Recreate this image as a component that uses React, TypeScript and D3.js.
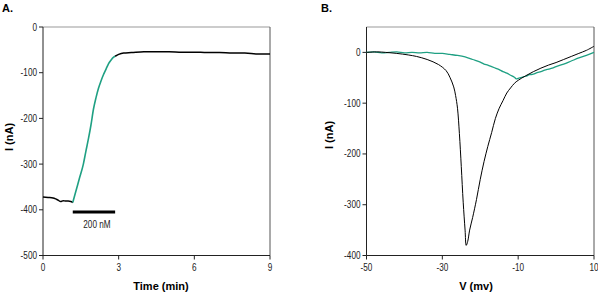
import React from "react";
import * as d3 from "d3";

// Panel A: current vs time
const timeBase = [0, 0.2, 0.4, 0.5, 0.6, 0.7, 0.8, 0.9, 1.0, 1.1, 1.18];
const currentBase = [-372, -373, -374, -376, -379, -382, -380, -381, -381, -382, -384];
const timeResp = [1.18, 1.3, 1.45, 1.6, 1.7, 1.8, 1.9, 2.0, 2.1, 2.2, 2.3, 2.4, 2.5, 2.6, 2.7, 2.8, 2.86];
const currentResp = [-384, -360, -330, -300, -272, -245, -215, -180, -155, -134, -118, -104, -92, -80, -72, -66, -64];
const timeWash = [2.86, 3.0, 3.2, 3.5, 4, 4.5, 5, 5.5, 6, 6.5, 7, 7.5, 8, 8.5, 9];
const currentWash = [-64, -60, -57, -56, -54, -54, -54, -55, -55, -56, -56, -57, -57, -59, -59];
const drugBar = [1.18, 2.86];
const drugBarLevel = -405;
const drugLabel = "200 nM";
const timeTicks = [0, 3, 6, 9];
const currentTicksA = [0, -100, -200, -300, -400, -500];

// Panel B: I-V curves
const voltBlack = [-50, -47, -45, -42, -39, -36.8, -34, -31, -29, -28, -27, -26.5, -26, -25.5, -25, -24.5, -24, -23.7, -23.3, -22.8, -22, -21, -20, -19, -18, -17, -16, -15, -14, -13, -12, -11, -10, -8, -6, -4, -2, 0, 2, 4, 6, 8, 10];
const currBlack = [0, 1, 0, -2, -5, -8, -14, -24, -36, -49, -68, -85, -110, -160, -225, -295, -350, -380, -372, -350, -325, -290, -250, -215, -185, -158, -130, -110, -95, -80, -70, -61, -55, -46, -38, -31, -25, -20, -14, -8, -2, 4, 12];
const voltGreen = [-50, -48, -46, -44, -42, -40, -38, -36, -34, -32, -30, -28, -26, -24, -22, -20, -19, -18, -17, -16, -15, -14, -13, -12, -11, -10.5, -10, -9, -8, -7, -6, -5, -4, -3, -2, -1, 0, 2, 4, 6, 8, 10];
const currGreen = [0, 1, -1, 0, 1, -1, 0, -1, 0, -2, -2, -4, -6, -9, -14, -19, -23, -25, -28, -31, -34, -38, -41, -45, -49, -52, -51, -49, -47, -44, -43, -40, -38, -35, -33, -31, -28, -23, -17, -11, -6, 0];
const voltTicks = [-50, -30, -10, 10];
const currentTicksB = [0, -100, -200, -300, -400];

const GREEN = "#1fa083";
const TICK_FONT = "'Liberation Sans', Arial, sans-serif";
const TITLE_FONT = "'Liberation Sans', Arial, sans-serif";

export default function App() {
  const W = 598, H = 294;

  // Panel A scales
  const xA = d3.scaleLinear().domain([0, 9]).range([43, 270]);
  const yA = d3.scaleLinear().domain([-500, 0]).range([255.5, 27]);
  // Panel B scales
  const xB = d3.scaleLinear().domain([-50, 10]).range([366.5, 594]);
  const yB = d3.scaleLinear().domain([-400, 50]).range([255.5, 27]);

  const lineA = d3.line<[number, number]>().x(d => xA(d[0])).y(d => yA(d[1])).curve(d3.curveMonotoneX);
  const lineB = d3.line<[number, number]>().x(d => xB(d[0])).y(d => yB(d[1])).curve(d3.curveCatmullRom);

  const zip = (a: number[], b: number[]) => a.map((v, i) => [v, b[i]] as [number, number]);

  const tickText = (x: number, y: number, anchor: string, s: string | number, key?: string) => (
    <text key={key} transform={`translate(${x},${y}) scale(0.82,1)`} fontSize={10} textAnchor={anchor} fontFamily={TICK_FONT} fill="#222">{s}</text>
  );

  const panel = (
    x: d3.ScaleLinear<number, number>,
    y: d3.ScaleLinear<number, number>,
    xt: number[],
    yt: number[]
  ) => {
    const [x0, x1] = x.range();
    const [y0, y1] = y.range();
    return (
      <g>
        <line x1={x0} x2={x1} y1={y1} y2={y1} stroke="#999" strokeWidth={1} />
        <line x1={x1} x2={x1} y1={y1} y2={y0} stroke="#555" strokeWidth={1} />
        <line x1={x0} x2={x0} y1={y1} y2={y0} stroke="#222" strokeWidth={1} />
        <line x1={x0} x2={x1} y1={y0} y2={y0} stroke="#222" strokeWidth={1} />
        {yt.map(t => (
          <g key={"y" + t}>
            <line x1={x0 - 4} x2={x0} y1={y(t)} y2={y(t)} stroke="#222" />
            {tickText(x0 - 6, y(t) + 3.5, "end", t)}
          </g>
        ))}
        {xt.map(t => (
          <g key={"x" + t}>
            <line x1={x(t)} x2={x(t)} y1={y0} y2={y0 + 4} stroke="#222" />
            {tickText(x(t), y0 + 15, "middle", t)}
          </g>
        ))}
      </g>
    );
  };

  return (
    <svg width={W} height={H} style={{ position: "absolute", left: 0, top: 0, background: "#fff" }}>
      <rect width={W} height={H} fill="#fff" />
      {/* Panel A */}
      <text x={2} y={12} fontSize={11} fontWeight="bold" fontFamily={TITLE_FONT}>A.</text>
      {panel(xA, yA, timeTicks, currentTicksA)}
      <path d={lineA(zip(timeBase, currentBase)) || ""} fill="none" stroke="#000" strokeWidth={1.5} />
      <path d={lineA(zip(timeResp, currentResp)) || ""} fill="none" stroke={GREEN} strokeWidth={1.6} />
      <path d={lineA(zip(timeWash, currentWash)) || ""} fill="none" stroke="#000" strokeWidth={1.5} />
      <line x1={xA(drugBar[0])} x2={xA(drugBar[1])} y1={yA(drugBarLevel)} y2={yA(drugBarLevel)} stroke="#000" strokeWidth={3} />
      {tickText(xA((drugBar[0] + drugBar[1]) / 2) + 3, yA(drugBarLevel) + 16, "middle", drugLabel)}
      <text transform={`translate(13,137) rotate(-90)`} fontSize={11} fontWeight="bold" textAnchor="middle" fontFamily={TITLE_FONT}>I (nA)</text>
      <text x={161} y={290} fontSize={11} fontWeight="bold" textAnchor="middle" fontFamily={TITLE_FONT}>Time (min)</text>

      {/* Panel B */}
      <text x={321} y={12} fontSize={11} fontWeight="bold" fontFamily={TITLE_FONT}>B.</text>
      {panel(xB, yB, voltTicks, currentTicksB)}
      <path d={lineB(zip(voltGreen, currGreen)) || ""} fill="none" stroke={GREEN} strokeWidth={1.3} />
      <path d={lineB(zip(voltBlack, currBlack)) || ""} fill="none" stroke="#000" strokeWidth={1} />
      <text transform={`translate(333,135) rotate(-90)`} fontSize={11} fontWeight="bold" textAnchor="middle" fontFamily={TITLE_FONT}>I (nA)</text>
      <text x={476} y={290} fontSize={11} fontWeight="bold" textAnchor="middle" fontFamily={TITLE_FONT}>V (mv)</text>
    </svg>
  );
}
